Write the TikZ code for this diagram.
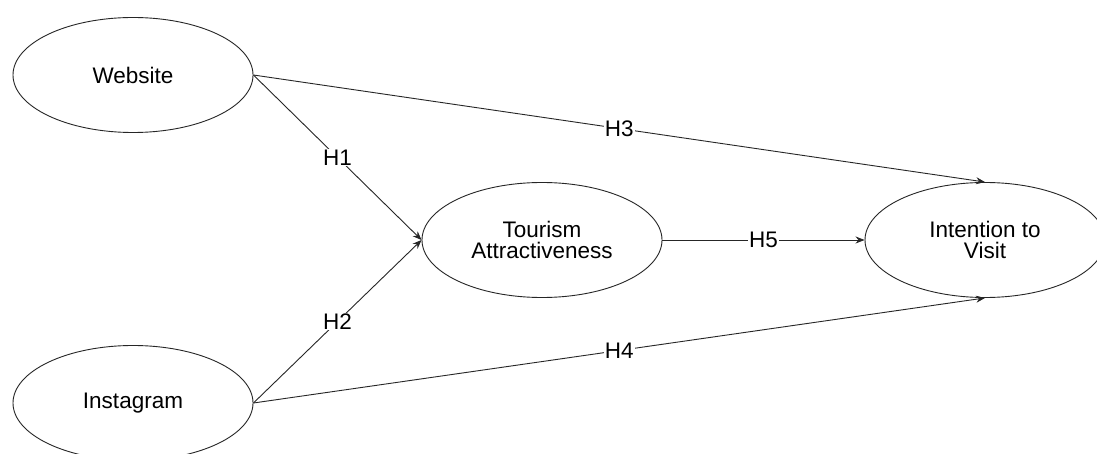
\documentclass[tikz,border=0pt]{standalone}
\usepackage{fontspec}
\setmainfont{Liberation Sans}
\usetikzlibrary{shapes.geometric,arrows.meta}
\begin{document}
\begin{tikzpicture}[x=1pt,y=-1pt,
  construct/.style={draw=black!85,line width=0.9pt,ellipse,minimum width=240pt,minimum height=115pt,inner sep=0pt,align=center,font=\fontsize{22.5}{20.5}\selectfont},
  path/.style={draw=black!85,line width=0.9pt,-{Stealth[length=9pt,width=7pt]}},
  hlabel/.style={midway,fill=white,inner sep=1pt,font=\fontsize{22.5}{20.5}\selectfont}]
\useasboundingbox[fill=white] (0,0) rectangle (1097,454);
\node[construct] (web) at (133,75) {Website};
\node[construct] (insta) at (133,403) {Instagram};
\node[construct] (tour) at (542,240) {Tourism\\Attractiveness};
\node[construct] (intent) at (985,240) {Intention to\\Visit};
\draw[path] (web.east) -- (tour.west) node[hlabel] {H1};
\draw[path] (insta.east) -- (tour.west) node[hlabel] {H2};
\draw[path] (web.east) -- (intent.north) node[hlabel] {H3};
\draw[path] (insta.east) -- (intent.south) node[hlabel] {H4};
\draw[path] (tour.east) -- (intent.west) node[hlabel] {H5};
\end{tikzpicture}
\end{document}
